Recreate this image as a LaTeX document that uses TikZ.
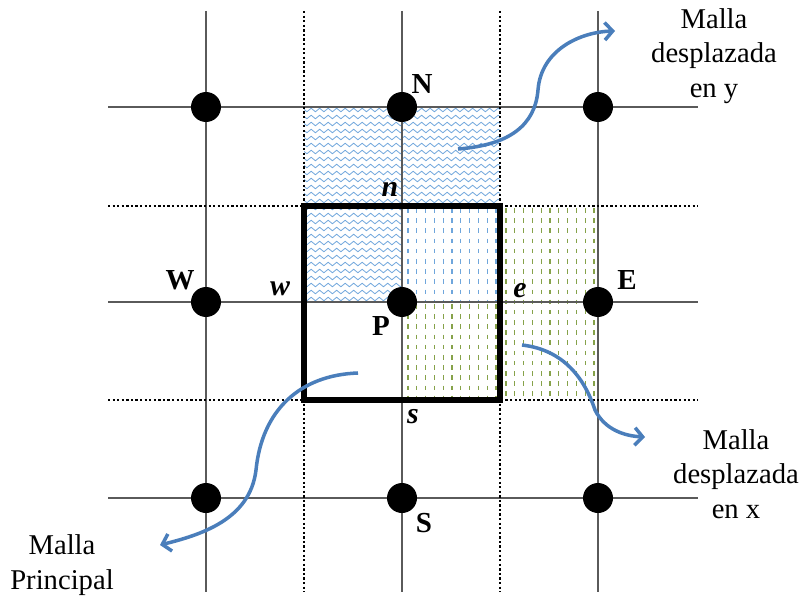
\documentclass[tikz,border=0pt]{standalone}
\usepackage{fontspec}
\setmainfont{Liberation Serif}
\usetikzlibrary{arrows.meta,decorations.pathmorphing}
\definecolor{arrowblue}{HTML}{4A7EBB}
\definecolor{hatchblue}{HTML}{6FA6DC}
\definecolor{hatchgreen}{HTML}{86A24A}
\definecolor{gridgray}{HTML}{5A5A5A}
\tikzset{
  gridline/.style={draw=gridgray, line width=0.8pt},
  dotline/.style={draw=black, line width=1.6pt, dash pattern=on 1.3pt off 1.3pt},
  meshbox/.style={draw=black, line width=3pt},
  gridpt/.style={circle, fill=black, minimum size=0.6cm, inner sep=0pt},
  lab/.style={inner sep=0pt, font=\fontsize{16.5}{18}\selectfont\bfseries},
  face/.style={inner sep=0pt, font=\fontsize{17}{18}\selectfont\bfseries\itshape},
  note/.style={inner sep=0pt, align=center, font=\fontsize{16.3}{19.5}\selectfont},
  wavy/.style={draw=hatchblue, line width=0.45pt, decorate, decoration={snake, amplitude=0.035cm, segment length=0.17cm}},
  bluedash/.style={draw=hatchblue, line width=0.65pt, dash pattern=on 2.6pt off 3.2pt},
  greendash/.style={draw=hatchgreen, line width=0.65pt, dash pattern=on 2.6pt off 3.2pt},
  flow/.style={draw=arrowblue, line width=2pt, -{Straight Barb[length=4.5pt, width=10pt]}}
}
\begin{document}
\begin{tikzpicture}[x=0.02cm, y=-0.02cm]
\useasboundingbox (0,0) rectangle (804,598);
% hatched regions
\begin{scope}
  \clip (304,107) -- (500,107) -- (500,206) -- (402,206) -- (402,302) -- (304,302) -- cycle;
  \foreach \k in {0,...,27} \draw[wavy] (300,{110+7*\k}) -- (504,{110+7*\k});
\end{scope}
\foreach \k in {0,...,10} \draw[bluedash] ({408+8.8*\k},208) -- ({408+8.8*\k},301);
\foreach \k in {0,...,10} \draw[greendash] ({408+8.8*\k},304) -- ({408+8.8*\k},399);
\foreach \k in {0,...,10} \draw[greendash] ({506+8.8*\k},208) -- ({506+8.8*\k},399);
% main grid
\foreach \xx in {206,402,598} \draw[gridline] (\xx,11) -- (\xx,592);
\foreach \yy in {107,302,498} \draw[gridline] (108,\yy) -- (698,\yy);
% staggered grid (dotted)
\foreach \xx in {304,500} \draw[dotline] (\xx,11) -- (\xx,592);
\foreach \yy in {206,400} \draw[dotline] (108,\yy) -- (698,\yy);
% control volume
\draw[meshbox] (304,206) rectangle (500,400);
% grid points
\node[gridpt] (pNW) at (206,107) {};
\node[gridpt] (pN)  at (402,107) {};
\node[gridpt] (pNE) at (598,107) {};
\node[gridpt] (pW)  at (206,302) {};
\node[gridpt] (pP)  at (402,302) {};
\node[gridpt] (pE)  at (598,302) {};
\node[gridpt] (pSW) at (206,498) {};
\node[gridpt] (pS)  at (402,498) {};
\node[gridpt] (pSE) at (598,498) {};
% labels
\node[lab] (lN) at (422,84) {N};
\node[lab] (lW) at (180,280) {W};
\node[lab] (lE) at (627,280) {E};
\node[lab] (lP) at (381,326) {P};
\node[lab] (lS) at (424,523) {S};
\node[face] (fn) at (390,189) {n};
\node[face] (fw) at (280,289) {w};
\node[face] (fe) at (520,291) {e};
\node[face] (fs) at (413,417) {s};
% notes
\node[note] (ny) at (714,56) {Malla\\desplazada\\en y};
\node[note] (nx) at (736,474) {Malla\\desplazada\\en x};
\node[note] (np) at (62,565) {Malla\\Principal};
% arrows
\coordinate (sy) at (458,149);
\coordinate (ty) at (615,31);
\coordinate (sp) at (358,373);
\coordinate (tp) at (160,545);
\coordinate (sx) at (522,345);
\coordinate (tx) at (645,437);
\draw[flow] (sy) .. controls (510,145) and (535,125) .. (538,90) .. controls (541,50) and (580,32) .. (ty);
\draw[flow] (sp) .. controls (300,375) and (262,410) .. (256,470) .. controls (250,520) and (200,535) .. (tp);
\draw[flow] (sx) .. controls (565,350) and (585,380) .. (595,410) .. controls (605,430) and (625,436) .. (tx);
\end{tikzpicture}
\end{document}
